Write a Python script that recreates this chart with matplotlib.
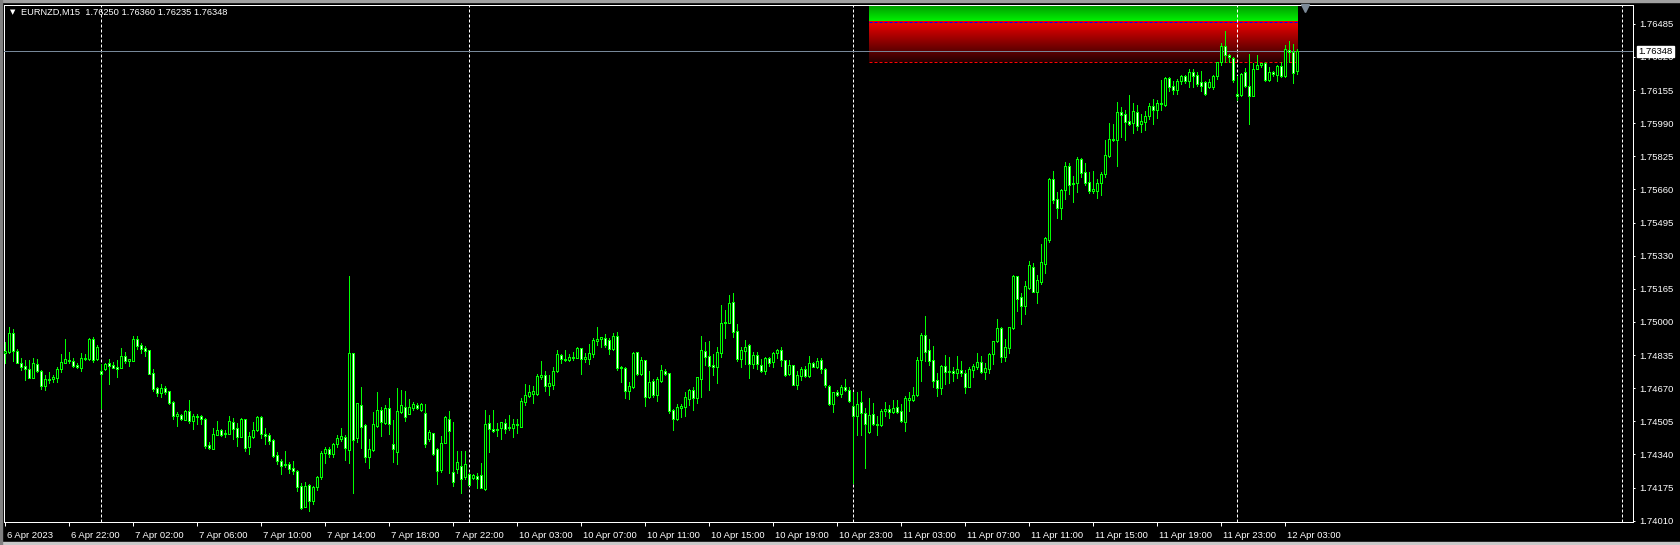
import matplotlib
matplotlib.use('Agg')
import matplotlib.pyplot as plt
import matplotlib.transforms as mtransforms
from matplotlib.patches import Rectangle
import numpy as np

# EURNZD M15, one entry per bar: 6 Apr 18:00 ... 12 Apr 03:45
opens = [
    1.74847, 1.74852, 1.74943, 1.74855, 1.74794, 1.74780, 1.74764, 1.74722, 1.74789, 1.74755,
    1.74682, 1.74716, 1.74714, 1.74722, 1.74764, 1.74797, 1.74810, 1.74804, 1.74785, 1.74772,
    1.74820, 1.74815, 1.74913, 1.74815, 1.74755, 1.74764, 1.74794, 1.74785, 1.74774, 1.74772,
    1.74830, 1.74807, 1.74807, 1.74913, 1.74885, 1.74870, 1.74860, 1.74744, 1.74671, 1.74644,
    1.74671, 1.74656, 1.74600, 1.74531, 1.74538, 1.74513, 1.74556, 1.74508, 1.74533, 1.74533,
    1.74516, 1.74387, 1.74367, 1.74438, 1.74462, 1.74440, 1.74443, 1.74501, 1.74470, 1.74428,
    1.74516, 1.74378, 1.74428, 1.74460, 1.74526, 1.74442, 1.74437, 1.74412, 1.74336, 1.74307,
    1.74286, 1.74294, 1.74272, 1.74257, 1.74183, 1.74080, 1.74186, 1.74110, 1.74176, 1.74226,
    1.74346, 1.74367, 1.74342, 1.74392, 1.74417, 1.74425, 1.74362, 1.74844, 1.74420, 1.74585,
    1.74485, 1.74326, 1.74362, 1.74483, 1.74560, 1.74498, 1.74571, 1.74392, 1.74354, 1.74553,
    1.74575, 1.74543, 1.74573, 1.74585, 1.74561, 1.74546, 1.74417, 1.74445, 1.74365, 1.74262,
    1.74398, 1.74515, 1.74254, 1.74269, 1.74281, 1.74226, 1.74242, 1.74221, 1.74231, 1.74238,
    1.74166, 1.74495, 1.74465, 1.74460, 1.74470, 1.74496, 1.74473, 1.74473, 1.74492, 1.74478,
    1.74603, 1.74632, 1.74639, 1.74639, 1.74727, 1.74734, 1.74682, 1.74687, 1.74757, 1.74837,
    1.74815, 1.74812, 1.74822, 1.74822, 1.74869, 1.74814, 1.74817, 1.74840, 1.74906, 1.74913,
    1.74921, 1.74910, 1.74865, 1.74930, 1.74774, 1.74769, 1.74657, 1.74677, 1.74849, 1.74740,
    1.74809, 1.74627, 1.74706, 1.74637, 1.74706, 1.74755, 1.74744, 1.74560, 1.74515, 1.74573,
    1.74575, 1.74618, 1.74661, 1.74622, 1.74714, 1.74854, 1.74830, 1.74785, 1.74777, 1.74847,
    1.74993, 1.74996, 1.75098, 1.74953, 1.74817, 1.74856, 1.74883, 1.74792, 1.74834, 1.74784,
    1.74757, 1.74819, 1.74800, 1.74844, 1.74860, 1.74810, 1.74742, 1.74784, 1.74687, 1.74731,
    1.74765, 1.74732, 1.74794, 1.74774, 1.74810, 1.74765, 1.74681, 1.74590, 1.74651, 1.74639,
    1.74676, 1.74659, 1.74581, 1.74533, 1.74600, 1.74545, 1.74453, 1.74541, 1.74492, 1.74485,
    1.74556, 1.74566, 1.74553, 1.74575, 1.74555, 1.74503, 1.74613, 1.74611, 1.74636, 1.74812,
    1.74935, 1.74860, 1.74810, 1.74711, 1.74672, 1.74780, 1.74752, 1.74755, 1.74744, 1.74760,
    1.74744, 1.74677, 1.74760, 1.74777, 1.74799, 1.74749, 1.74764, 1.74839, 1.74906, 1.74970,
    1.74827, 1.74869, 1.74970, 1.75229, 1.75122, 1.75081, 1.75170, 1.75273, 1.75150, 1.75197,
    1.75290, 1.75408, 1.75712, 1.75612, 1.75569, 1.75657, 1.75776, 1.75685, 1.75690, 1.75811,
    1.75748, 1.75697, 1.75653, 1.75653, 1.75690, 1.75735, 1.75828, 1.75906, 1.75906, 1.76045,
    1.76035, 1.76000, 1.75989, 1.76045, 1.75984, 1.75997, 1.76025, 1.76075, 1.76055, 1.76092,
    1.76080, 1.76215, 1.76175, 1.76155, 1.76200, 1.76225, 1.76200, 1.76244, 1.76230, 1.76196,
    1.76195, 1.76170, 1.76171, 1.76226, 1.76293, 1.76374, 1.76329, 1.76313, 1.76135, 1.76130,
    1.76243, 1.76175, 1.76126, 1.76261, 1.76278, 1.76288, 1.76205, 1.76243, 1.76228, 1.76274,
    1.76226, 1.76352, 1.76342, 1.76250,
]
highs = [
    1.74901, 1.74976, 1.74963, 1.74864, 1.74819, 1.74810, 1.74810, 1.74819, 1.74814, 1.74760,
    1.74736, 1.74749, 1.74736, 1.74774, 1.74840, 1.74913, 1.74850, 1.74819, 1.74794, 1.74844,
    1.74840, 1.74918, 1.74923, 1.74885, 1.74790, 1.74794, 1.74815, 1.74799, 1.74810, 1.74869,
    1.74850, 1.74815, 1.74930, 1.74930, 1.74893, 1.74881, 1.74860, 1.74765, 1.74677, 1.74689,
    1.74681, 1.74656, 1.74608, 1.74550, 1.74541, 1.74561, 1.74611, 1.74540, 1.74541, 1.74536,
    1.74523, 1.74403, 1.74472, 1.74506, 1.74465, 1.74462, 1.74531, 1.74520, 1.74495, 1.74520,
    1.74518, 1.74453, 1.74500, 1.74531, 1.74531, 1.74470, 1.74448, 1.74417, 1.74350, 1.74317,
    1.74357, 1.74304, 1.74307, 1.74262, 1.74196, 1.74203, 1.74193, 1.74184, 1.74232, 1.74357,
    1.74378, 1.74378, 1.74395, 1.74437, 1.74470, 1.74438, 1.75229, 1.74847, 1.74598, 1.74674,
    1.74490, 1.74415, 1.74550, 1.74649, 1.74578, 1.74586, 1.74620, 1.74511, 1.74669, 1.74661,
    1.74656, 1.74615, 1.74603, 1.74598, 1.74595, 1.74591, 1.74462, 1.74448, 1.74373, 1.74432,
    1.74531, 1.74556, 1.74501, 1.74357, 1.74357, 1.74357, 1.74246, 1.74241, 1.74246, 1.74296,
    1.74561, 1.74536, 1.74561, 1.74495, 1.74503, 1.74515, 1.74536, 1.74515, 1.74515, 1.74622,
    1.74691, 1.74686, 1.74681, 1.74739, 1.74805, 1.74755, 1.74736, 1.74777, 1.74860, 1.74840,
    1.74860, 1.74839, 1.74852, 1.74873, 1.74871, 1.74847, 1.74888, 1.74921, 1.74973, 1.74926,
    1.74940, 1.74920, 1.74943, 1.74951, 1.74780, 1.74777, 1.74702, 1.74850, 1.74849, 1.74824,
    1.74810, 1.74755, 1.74716, 1.74724, 1.74784, 1.74765, 1.74744, 1.74568, 1.74591, 1.74591,
    1.74652, 1.74664, 1.74677, 1.74727, 1.74930, 1.74900, 1.74906, 1.74840, 1.74876, 1.75084,
    1.75059, 1.75134, 1.75145, 1.74990, 1.74876, 1.74910, 1.74888, 1.74850, 1.74849, 1.74814,
    1.74827, 1.74824, 1.74850, 1.74866, 1.74873, 1.74810, 1.74810, 1.74787, 1.74757, 1.74777,
    1.74780, 1.74830, 1.74802, 1.74819, 1.74819, 1.74769, 1.74686, 1.74652, 1.74661, 1.74684,
    1.74714, 1.74677, 1.74652, 1.74652, 1.74656, 1.74570, 1.74622, 1.74595, 1.74531, 1.74566,
    1.74600, 1.74585, 1.74611, 1.74611, 1.74591, 1.74632, 1.74652, 1.74676, 1.74827, 1.74945,
    1.75029, 1.74913, 1.74880, 1.74747, 1.74785, 1.74835, 1.74825, 1.74777, 1.74830, 1.74807,
    1.74760, 1.74774, 1.74790, 1.74847, 1.74830, 1.74794, 1.74844, 1.74906, 1.75014, 1.74976,
    1.74915, 1.74976, 1.75234, 1.75229, 1.75145, 1.75202, 1.75305, 1.75292, 1.75234, 1.75388,
    1.75421, 1.75718, 1.75753, 1.75648, 1.75660, 1.75796, 1.75793, 1.75727, 1.75821, 1.75815,
    1.75793, 1.75748, 1.75751, 1.75710, 1.75745, 1.75906, 1.75989, 1.75986, 1.76097, 1.76070,
    1.76055, 1.76130, 1.76090, 1.76080, 1.76035, 1.76052, 1.76090, 1.76110, 1.76105, 1.76205,
    1.76221, 1.76221, 1.76201, 1.76208, 1.76230, 1.76230, 1.76258, 1.76259, 1.76246, 1.76251,
    1.76200, 1.76208, 1.76230, 1.76294, 1.76390, 1.76449, 1.76334, 1.76318, 1.76225, 1.76241,
    1.76263, 1.76334, 1.76291, 1.76329, 1.76291, 1.76293, 1.76271, 1.76249, 1.76278, 1.76296,
    1.76379, 1.76397, 1.76384, 1.76360,
]
lows = [
    1.74797, 1.74844, 1.74805, 1.74794, 1.74760, 1.74711, 1.74719, 1.74719, 1.74752, 1.74666,
    1.74661, 1.74694, 1.74702, 1.74702, 1.74752, 1.74797, 1.74794, 1.74774, 1.74769, 1.74757,
    1.74810, 1.74810, 1.74802, 1.74810, 1.74570, 1.74760, 1.74691, 1.74769, 1.74727, 1.74772,
    1.74794, 1.74780, 1.74805, 1.74865, 1.74847, 1.74832, 1.74740, 1.74656, 1.74629, 1.74627,
    1.74642, 1.74590, 1.74515, 1.74481, 1.74511, 1.74510, 1.74498, 1.74467, 1.74492, 1.74492,
    1.74370, 1.74367, 1.74365, 1.74437, 1.74432, 1.74428, 1.74442, 1.74418, 1.74383, 1.74425,
    1.74357, 1.74342, 1.74423, 1.74458, 1.74420, 1.74393, 1.74392, 1.74329, 1.74292, 1.74242,
    1.74276, 1.74246, 1.74242, 1.74159, 1.74068, 1.74077, 1.74060, 1.74093, 1.74163, 1.74216,
    1.74296, 1.74326, 1.74329, 1.74378, 1.74408, 1.74312, 1.74299, 1.74146, 1.74403, 1.74370,
    1.74304, 1.74274, 1.74358, 1.74478, 1.74432, 1.74492, 1.74442, 1.74304, 1.74291, 1.74545,
    1.74506, 1.74541, 1.74561, 1.74565, 1.74556, 1.74378, 1.74407, 1.74337, 1.74194, 1.74252,
    1.74395, 1.74249, 1.74183, 1.74246, 1.74149, 1.74218, 1.74186, 1.74216, 1.74174, 1.74171,
    1.74163, 1.74354, 1.74453, 1.74432, 1.74418, 1.74448, 1.74462, 1.74425, 1.74445, 1.74475,
    1.74586, 1.74627, 1.74595, 1.74636, 1.74714, 1.74657, 1.74636, 1.74667, 1.74752, 1.74794,
    1.74807, 1.74805, 1.74810, 1.74819, 1.74740, 1.74802, 1.74790, 1.74827, 1.74885, 1.74873,
    1.74876, 1.74840, 1.74860, 1.74760, 1.74701, 1.74620, 1.74618, 1.74672, 1.74736, 1.74734,
    1.74583, 1.74621, 1.74627, 1.74606, 1.74701, 1.74737, 1.74545, 1.74462, 1.74511, 1.74528,
    1.74533, 1.74585, 1.74561, 1.74595, 1.74627, 1.74785, 1.74661, 1.74736, 1.74697, 1.74824,
    1.74921, 1.74993, 1.74926, 1.74805, 1.74774, 1.74790, 1.74722, 1.74770, 1.74765, 1.74750,
    1.74740, 1.74780, 1.74777, 1.74819, 1.74780, 1.74731, 1.74737, 1.74686, 1.74664, 1.74711,
    1.74727, 1.74727, 1.74774, 1.74769, 1.74747, 1.74677, 1.74586, 1.74550, 1.74632, 1.74627,
    1.74657, 1.74603, 1.74199, 1.74437, 1.74437, 1.74274, 1.74448, 1.74486, 1.74437, 1.74481,
    1.74533, 1.74523, 1.74545, 1.74545, 1.74501, 1.74457, 1.74556, 1.74608, 1.74632, 1.74707,
    1.74805, 1.74785, 1.74677, 1.74631, 1.74641, 1.74691, 1.74694, 1.74707, 1.74719, 1.74731,
    1.74647, 1.74676, 1.74727, 1.74764, 1.74744, 1.74716, 1.74744, 1.74790, 1.74901, 1.74802,
    1.74807, 1.74847, 1.74963, 1.75056, 1.74990, 1.75039, 1.75164, 1.75149, 1.75096, 1.75189,
    1.75242, 1.75399, 1.75594, 1.75519, 1.75511, 1.75614, 1.75637, 1.75599, 1.75648, 1.75720,
    1.75682, 1.75643, 1.75640, 1.75619, 1.75632, 1.75723, 1.75823, 1.75902, 1.75778, 1.75921,
    1.75906, 1.75981, 1.75942, 1.75956, 1.75946, 1.75956, 1.76010, 1.75986, 1.76015, 1.76055,
    1.76075, 1.76150, 1.76135, 1.76135, 1.76183, 1.76191, 1.76171, 1.76171, 1.76176, 1.76151,
    1.76130, 1.76163, 1.76160, 1.76208, 1.76279, 1.76296, 1.76296, 1.76196, 1.76105, 1.76125,
    1.76171, 1.75986, 1.76125, 1.76258, 1.76271, 1.76201, 1.76201, 1.76225, 1.76201, 1.76218,
    1.76221, 1.76293, 1.76191, 1.76235,
]
closes = [
    1.74855, 1.74943, 1.74855, 1.74797, 1.74777, 1.74764, 1.74722, 1.74794, 1.74757, 1.74682,
    1.74716, 1.74711, 1.74727, 1.74764, 1.74799, 1.74814, 1.74805, 1.74782, 1.74777, 1.74819,
    1.74815, 1.74913, 1.74810, 1.74876, 1.74742, 1.74790, 1.74782, 1.74772, 1.74767, 1.74829,
    1.74807, 1.74814, 1.74913, 1.74881, 1.74865, 1.74856, 1.74742, 1.74666, 1.74647, 1.74672,
    1.74651, 1.74598, 1.74533, 1.74540, 1.74515, 1.74556, 1.74506, 1.74533, 1.74526, 1.74515,
    1.74383, 1.74370, 1.74442, 1.74462, 1.74435, 1.74447, 1.74506, 1.74468, 1.74428, 1.74516,
    1.74373, 1.74432, 1.74460, 1.74526, 1.74440, 1.74433, 1.74408, 1.74334, 1.74309, 1.74284,
    1.74294, 1.74266, 1.74256, 1.74179, 1.74075, 1.74183, 1.74110, 1.74179, 1.74226, 1.74348,
    1.74367, 1.74342, 1.74392, 1.74420, 1.74432, 1.74370, 1.74844, 1.74410, 1.74595, 1.74478,
    1.74326, 1.74365, 1.74492, 1.74560, 1.74503, 1.74571, 1.74492, 1.74365, 1.74555, 1.74585,
    1.74528, 1.74576, 1.74590, 1.74570, 1.74590, 1.74393, 1.74450, 1.74342, 1.74259, 1.74395,
    1.74525, 1.74458, 1.74201, 1.74301, 1.74218, 1.74291, 1.74189, 1.74236, 1.74216, 1.74174,
    1.74492, 1.74465, 1.74458, 1.74467, 1.74500, 1.74468, 1.74477, 1.74492, 1.74485, 1.74605,
    1.74634, 1.74649, 1.74654, 1.74731, 1.74734, 1.74682, 1.74694, 1.74755, 1.74839, 1.74814,
    1.74810, 1.74825, 1.74827, 1.74869, 1.74817, 1.74824, 1.74844, 1.74910, 1.74915, 1.74923,
    1.74885, 1.74865, 1.74930, 1.74772, 1.74769, 1.74657, 1.74681, 1.74845, 1.74740, 1.74809,
    1.74627, 1.74702, 1.74637, 1.74714, 1.74759, 1.74742, 1.74558, 1.74515, 1.74575, 1.74581,
    1.74624, 1.74661, 1.74622, 1.74724, 1.74860, 1.74827, 1.74782, 1.74777, 1.74849, 1.74993,
    1.74999, 1.75093, 1.74951, 1.74815, 1.74860, 1.74876, 1.74792, 1.74834, 1.74792, 1.74757,
    1.74819, 1.74794, 1.74844, 1.74860, 1.74810, 1.74737, 1.74784, 1.74687, 1.74736, 1.74765,
    1.74732, 1.74794, 1.74777, 1.74805, 1.74764, 1.74686, 1.74591, 1.74649, 1.74637, 1.74676,
    1.74659, 1.74608, 1.74533, 1.74593, 1.74545, 1.74490, 1.74538, 1.74492, 1.74485, 1.74555,
    1.74566, 1.74553, 1.74570, 1.74551, 1.74508, 1.74620, 1.74622, 1.74636, 1.74809, 1.74935,
    1.74852, 1.74807, 1.74707, 1.74672, 1.74782, 1.74752, 1.74755, 1.74744, 1.74765, 1.74744,
    1.74677, 1.74765, 1.74779, 1.74799, 1.74749, 1.74769, 1.74840, 1.74905, 1.74970, 1.74824,
    1.74873, 1.74973, 1.75229, 1.75113, 1.75081, 1.75179, 1.75283, 1.75150, 1.75209, 1.75298,
    1.75418, 1.75712, 1.75607, 1.75569, 1.75657, 1.75776, 1.75682, 1.75693, 1.75811, 1.75743,
    1.75693, 1.75652, 1.75660, 1.75690, 1.75738, 1.75831, 1.75911, 1.75912, 1.76047, 1.76030,
    1.75997, 1.75986, 1.76052, 1.75976, 1.76000, 1.76025, 1.76075, 1.76055, 1.76092, 1.76087,
    1.76216, 1.76171, 1.76155, 1.76200, 1.76225, 1.76200, 1.76244, 1.76226, 1.76185, 1.76176,
    1.76133, 1.76195, 1.76225, 1.76294, 1.76374, 1.76328, 1.76318, 1.76205, 1.76125, 1.76234,
    1.76175, 1.76126, 1.76258, 1.76278, 1.76288, 1.76205, 1.76243, 1.76233, 1.76274, 1.76225,
    1.76358, 1.76342, 1.76241, 1.76348,
]

time_labels = ['6 Apr 2023', '6 Apr 22:00', '7 Apr 02:00', '7 Apr 06:00', '7 Apr 10:00',
               '7 Apr 14:00', '7 Apr 18:00', '7 Apr 22:00', '10 Apr 03:00', '10 Apr 07:00',
               '10 Apr 11:00', '10 Apr 15:00', '10 Apr 19:00', '10 Apr 23:00', '11 Apr 03:00',
               '11 Apr 07:00', '11 Apr 11:00', '11 Apr 15:00', '11 Apr 19:00', '11 Apr 23:00',
               '12 Apr 03:00']
bars_per_label = 16                      # 4 hours of M15 bars
day_separators = [24, 116, 212, 308]     # bar index of 00:00 of each new day
price_ticks = [1.74010, 1.74175, 1.74340, 1.74505, 1.74670, 1.74835, 1.75000, 1.75165,
               1.75330, 1.75495, 1.75660, 1.75825, 1.75990, 1.76155, 1.76320, 1.76485]
bid = 1.76348
zone_start, zone_end = 216, 323          # bar range of the supply zone box
zone_top, zone_mid, zone_bottom = 1.76580, 1.76493, 1.76293

LIME = '#00ff00'
FS = 6.8
plt.rcParams['font.family'] = ['Liberation Sans', 'DejaVu Sans']
plt.rcParams['lines.scale_dashes'] = False
DASH = (0, (2.16, 1.44))

W, H = 1680, 545
fig = plt.figure(figsize=(W / 100, H / 100), dpi=100, facecolor='black')
ax = fig.add_axes([4 / W, (H - 522.3) / H, (1633 - 4) / W, (522.3 - 4.5) / H])
ax.set_facecolor('black')

o = np.array(opens)
h = np.array(highs)
l = np.array(lows)
c = np.array(closes)
x = np.arange(len(c))

# zone gradients
green = np.linspace([0, 0.58, 0], [0, 0.97, 0], 64).reshape(64, 1, 3)
red = np.linspace([0.95, 0, 0], [0.16, 0, 0], 64).reshape(64, 1, 3)
ax.imshow(green, extent=(zone_start, zone_end, zone_mid, zone_top), aspect='auto',
          origin='upper', interpolation='bilinear', zorder=1)
ax.imshow(red, extent=(zone_start, zone_end, zone_bottom, zone_mid), aspect='auto',
          origin='upper', interpolation='bilinear', zorder=1)
ax.hlines(zone_mid, zone_start, zone_end, colors='#0000ff', lw=0.72, linestyles=DASH, zorder=2)
ax.hlines(zone_bottom, zone_start, zone_end, colors='#ff0000', lw=0.72, linestyles=DASH, zorder=2)

# period separators
for b in day_separators:
    ax.axvline(b, color='white', lw=0.72, ls=DASH, zorder=3)
ax.axvline(404.2, color='white', lw=0.72, ls=DASH, zorder=3)

ax.axhline(bid, color='#778899', lw=0.72, zorder=3.5)

# candles
ax.vlines(x, l, h, color=LIME, lw=0.72, antialiased=False, zorder=4)
bull = c >= o
ax.bar(x, np.abs(c - o), bottom=np.minimum(o, c), width=0.55,
       color=np.where(bull, 'black', 'white'), edgecolor=LIME, linewidth=0.72,
       antialiased=False, zorder=5)

# chart shift marker
ax.plot([325], [1.76566], marker='v', ms=5.5, color='#7d8a98', clip_on=False, zorder=6)

ax.set_xlim(-0.33, 406.9)
ax.set_ylim(1.74002, 1.76581)

for s in ax.spines.values():
    s.set_color('white')
    s.set_linewidth(0.72)

ax.yaxis.tick_right()
ax.set_yticks(price_ticks)
ax.set_yticklabels([f'{p:.5f}' for p in price_ticks])
ax.tick_params(axis='y', colors='white', length=1.6, width=0.72, pad=2.6, labelsize=FS)

ax.set_xticks(np.arange(len(time_labels)) * bars_per_label)
ax.set_xticklabels(time_labels, ha='left')
ax.tick_params(axis='x', colors='white', length=3, width=0.72, pad=3, labelsize=FS)
shift = mtransforms.ScaledTranslation(2 / 100, 0, fig.dpi_scale_trans)
for lbl in ax.get_xticklabels():
    lbl.set_transform(lbl.get_transform() + shift)

# bid price box
ax.annotate(f'{bid:.5f}', xy=(1, bid), xycoords=('axes fraction', 'data'),
            xytext=(3.9, 0), textcoords='offset points', ha='left', va='center',
            color='black', fontsize=FS, annotation_clip=False, zorder=10,
            bbox=dict(boxstyle='square,pad=0.12', fc='white', ec='white'))

# title
fig.text(10 / W, 1 - 12.5 / H, '▼', color='white', fontsize=5, va='center', ha='left',
         family='DejaVu Sans')
fig.text(20.7 / W, 1 - 12.5 / H,
         f'EURNZD,M15  {opens[-1]:.5f} {highs[-1]:.5f} {lows[-1]:.5f} {closes[-1]:.5f}',
         color='white', fontsize=6.7, va='center', ha='left')

# window borders
fig.patches.append(Rectangle((0, 1 - 2 / H), 1, 2 / H, transform=fig.transFigure,
                             color='#a0a0a0', zorder=0))
fig.patches.append(Rectangle((0, 0), 1, 3.5 / H, transform=fig.transFigure,
                             color='#c8c8c8', zorder=0))
fig.patches.append(Rectangle((0, 0), 2 / W, 1, transform=fig.transFigure,
                             color='#808080', zorder=0))

fig.savefig('out.png', dpi=100, facecolor='black')
